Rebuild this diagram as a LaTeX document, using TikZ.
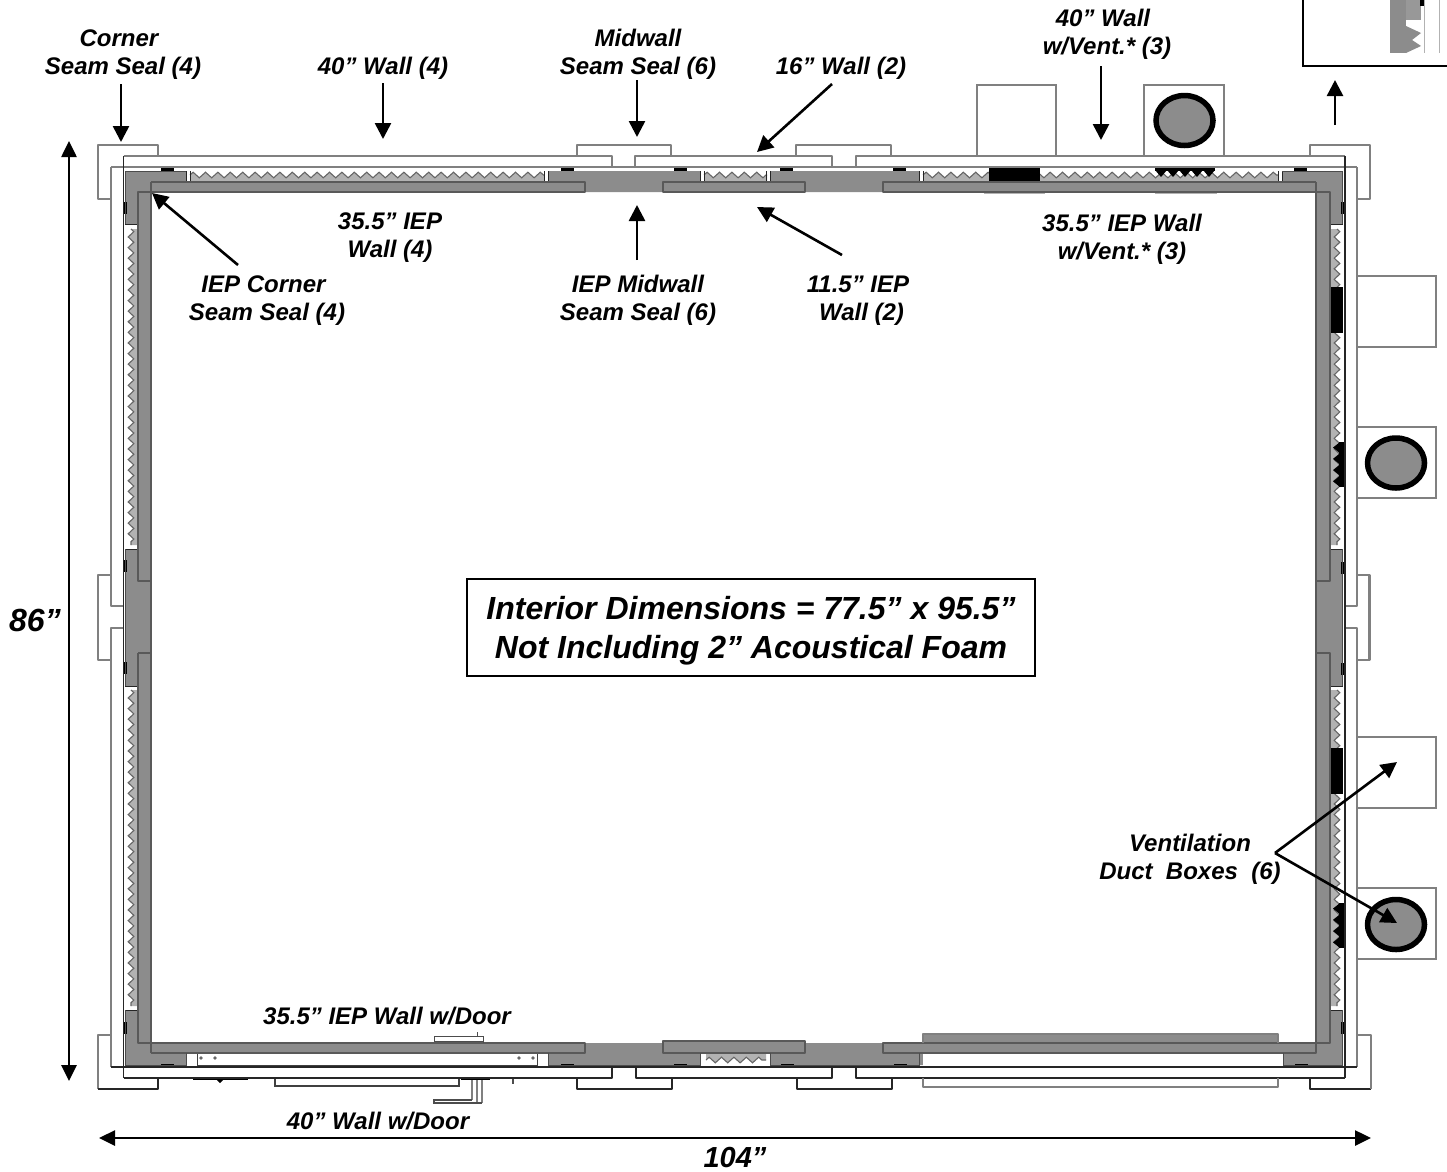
\documentclass[tikz,border=0pt]{standalone}
\usepackage{fontspec}
\setmainfont{Liberation Sans}
\usetikzlibrary{arrows.meta,decorations.pathmorphing}
\definecolor{wallgray}{gray}{0.55}
\definecolor{foamgray}{gray}{0.70}
\definecolor{linegray}{gray}{0.50}
\tikzset{
  lbl/.style={font=\fontsize{24}{28}\selectfont\bfseries\itshape,align=center,inner sep=0pt},
  arr/.style={line width=2.6pt,-{Triangle[length=16pt,width=16pt]}},
  dimarr/.style={line width=2.6pt,{Triangle[length=16pt,width=15pt]}-{Triangle[length=16pt,width=15pt]}},
  gl/.style={draw=linegray,line width=2.1pt,line join=round},
  kl/.style={draw=black!85,line width=1.5pt,line join=round},
  il/.style={draw=black!65,line width=1.7pt,line join=round},
  zz/.style={decoration={zigzag,segment length=#1,amplitude=2.8pt}},
  ventbox/.style={fill=white,draw=linegray,line width=1.7pt},
  ventcirc/.style={fill=wallgray,draw=black,line width=5.5pt},
}
\newcommand{\zigH}[4]{%
  \fill[foamgray] (#1,#3) decorate[zz=12.4] {-- (#2,#3)} -- (#2,#4) -- (#1,#4) -- cycle;
  \path[draw=black!60,line width=1.1pt] (#1,#3) decorate[zz=12.4] {-- (#2,#3)};
}
\newcommand{\zigV}[4]{%
  \fill[foamgray] (#3,#1) decorate[zz=10.6] {-- (#3,#2)} -- (#4,#2) -- (#4,#1) -- cycle;
  \path[draw=black!60,line width=1.1pt] (#3,#1) decorate[zz=10.6] {-- (#3,#2)};
}
\begin{document}
\begin{tikzpicture}[x=1pt,y=-1pt]
\useasboundingbox (0,0) rectangle (1447,1171);
\fill[white] (0,0) rectangle (1447,1171);

% inset at the top right
\fill[wallgray] (1390,0) rectangle (1406,53);
\fill[wallgray!90] (1406,0) rectangle (1421,20);
\fill[black] (1420,0) rectangle (1424,6);
\fill[wallgray] (1406,26) -- (1421,33) -- (1412,40) -- (1421,46) -- (1406,53) -- cycle;
\draw[gray!60,line width=0.8pt] (1424,0) -- (1424,53) (1439,0) -- (1439,53);
\draw[black,line width=1.8pt] (1303,0) -- (1303,66) -- (1447,66);

% vent boxes
\draw[ventbox] (977,156) -- (977,85) -- (1056,85) -- (1056,156);
\draw[ventbox] (1144,156) -- (1144,85) -- (1224,85) -- (1224,156);
\draw[ventbox] (1357,276) -- (1436,276) -- (1436,347) -- (1357,347);
\draw[ventbox] (1357,427) -- (1436,427) -- (1436,498) -- (1357,498);
\draw[ventbox] (1357,737) -- (1436,737) -- (1436,808) -- (1357,808);
\draw[ventbox] (1357,888) -- (1436,888) -- (1436,959) -- (1357,959);
\draw[ventcirc] (1184.5,120.5) ellipse [x radius=28.5pt,y radius=25pt];
\draw[ventcirc] (1396,463) ellipse [x radius=28.5pt,y radius=25pt];
\draw[ventcirc] (1396,924.5) ellipse [x radius=28.5pt,y radius=25pt];

% gray wall frame
\fill[wallgray,even odd rule] (125,171) rectangle (1342,1065) (151,192) rectangle (1316,1043);
\fill[wallgray] (663,1041) rectangle (805,1043);
\fill[wallgray] (923,1034) rectangle (1278,1043);

% top foam
\fill[white] (186,168) rectangle (548,181.5);
\fill[white] (700,168) rectangle (770,181.5);
\fill[white] (919,168) rectangle (1282,181.5);
\zigH{190}{544}{175}{181}
\zigH{704}{767}{175}{181}
\zigH{923}{1278}{175}{181}
\draw[kl,line width=1pt] (186,171) -- (186,181) -- (190,181) -- (190,171);
\draw[kl,line width=1pt] (544,171) -- (544,181) -- (548,181) -- (548,171);
\draw[kl,line width=1pt] (700,171) -- (700,181) -- (704,181) -- (704,171);
\draw[kl,line width=1pt] (766,171) -- (766,181) -- (770,181) -- (770,171);
\draw[kl,line width=1pt] (919,171) -- (919,181) -- (923,181) -- (923,171);
\draw[kl,line width=1pt] (1278,171) -- (1278,181) -- (1282,181) -- (1282,171);

% left foam
\fill[white] (125,224) rectangle (138,549);
\fill[white] (125,686) rectangle (138,1010);
\zigV{229}{545}{131}{138}
\zigV{690}{1006}{131}{138}
\draw[kl,line width=1pt] (125,224) -- (138,224) (125,549) -- (138,549) (125,686) -- (138,686) (125,1010) -- (138,1010);

% right foam
\fill[white] (1330,224) rectangle (1343,549);
\fill[white] (1330,686) rectangle (1343,1010);
\zigV{229}{545}{1337}{1330}
\zigV{690}{1006}{1337}{1330}
\draw[kl,line width=1pt] (1330,224) -- (1343,224) (1330,549) -- (1343,549) (1330,686) -- (1343,686) (1330,1010) -- (1343,1010);

% bottom openings
\fill[white] (186,1054) rectangle (548,1066);
\fill[white] (923,1054) rectangle (1283,1066);
\fill[white] (700,1054) rectangle (770,1066);
\zigH{706}{766}{1060}{1054}

% black vents
\fill[black] (989,167) rectangle (1040,181);
\fill[black] (1155,167) rectangle (1215,171);
\foreach \i in {0,...,4}{\fill[black] ({1155+12*\i},170) -- ({1167+12*\i},170) -- ({1161+12*\i},177) -- cycle;}
\fill[black] (1330,287) rectangle (1343,333);
\fill[black] (1330,748) rectangle (1343,794);
\fill[black] (1339,442) rectangle (1344,487);
\fill[black] (1339,903) rectangle (1344,948);
\foreach \i in {0,1,2,3}{\fill[black] (1340,{442+11.25*\i}) -- (1340,{453.25+11.25*\i}) -- (1333,{447.6+11.25*\i}) -- cycle;}
\foreach \i in {0,1,2,3}{\fill[black] (1340,{903+11.25*\i}) -- (1340,{914.25+11.25*\i}) -- (1333,{908.6+11.25*\i}) -- cycle;}
\draw[gray!60,line width=1pt] (984,193.5) -- (1045,193.5) (1155,193.5) -- (1217,193.5);

% small black seal marks
\foreach \x in {161,561,674,780,893,1294}{\fill[black] (\x,167.5) rectangle (\x+13,170.5);}
\foreach \x in {161,561,674,781,894,1295}{\fill[black] (\x,1064) rectangle (\x+13,1067);}
\foreach \y in {202,560,662,1022}{\fill[black] (123,\y) rectangle (126.5,\y+12);}
\foreach \y in {202,562,663,1022}{\fill[black] (1341,\y) rectangle (1344.5,\y+12);}

% IEP panel outlines
\draw[il] (151,182) -- (585,182) -- (585,192) -- (138,192) -- (138,581) -- (151,581);
\draw[il] (663,192) rectangle (805,182);
\draw[il] (1316,182) -- (883,182) -- (883,192) -- (1330,192) -- (1330,581) -- (1316,581);
\draw[il] (138,653) -- (151,653);
\draw[il] (138,653) -- (138,1043) -- (585,1043) -- (585,1053) -- (151,1053);
\draw[il] (151,182) -- (151,1053);
\draw[il] (1316,182) -- (1316,1053) -- (883,1053) -- (883,1043) -- (1330,1043) -- (1330,653) -- (1316,653);
\draw[il] (663,1041) rectangle (805,1053);
\draw[gl] (923,1043) -- (923,1034) -- (1278,1034) -- (1278,1043);
% seal outlines
\draw[black!70,line width=1pt] (125,224) -- (125,171) -- (186,171);
\draw[black!70,line width=1pt] (1282,171) -- (1342,171) -- (1342,224);
\draw[black!70,line width=1pt] (125,549) -- (125,686) (1342,549) -- (1342,686);
\draw[black!70,line width=1pt] (125,1010) -- (125,1065) -- (186,1065) -- (186,1053);
\draw[black!70,line width=1pt] (548,1053) -- (548,1065) -- (700,1065) -- (700,1053);
\draw[black!70,line width=1pt] (770,1053) -- (770,1065) -- (919,1065) -- (919,1053);
\draw[black!70,line width=1pt] (1283,1053) -- (1283,1065) -- (1342,1065) -- (1342,1010);

% door
\draw[black!75,line width=1pt] (197,1054) -- (197,1065) -- (537,1065) -- (537,1054);
\foreach \x in {201,215,519,533}{\fill[black!60] (\x,1058) circle (1.8pt);}
\draw[black!70,line width=1pt] (434,1036) rectangle (483,1041);
\draw[black!70,line width=1pt] (483,1041) -- (483,1043);
\draw[black!70,line width=1pt] (477,1032) -- (477,1036);
\draw[black,line width=1.8pt] (193,1079.5) -- (248,1079.5);
\fill[black] (216,1079) -- (224,1079) -- (220,1083) -- cycle;
\draw[black!75,line width=1.1pt] (275,1079) -- (275,1086) -- (459,1086) -- (459,1079);
\draw[black,line width=1.8pt] (461,1079.5) -- (490,1079.5);
\draw[black!70,line width=1.1pt] (513,1079) -- (513,1084);
\draw[linegray,line width=1.4pt] (472,1080) -- (472,1100) (477,1080) -- (477,1103) (482,1080) -- (482,1103);
\draw[black!70,line width=1.1pt] (472,1100) -- (434,1100) -- (434,1103) -- (482,1103);

% outer wall lines: top and right gray, bottom black
\draw[gl] (123.5,156) -- (612,156) -- (612,167);
\draw[gl] (635,167) -- (635,156) -- (832,156) -- (832,167);
\draw[gl] (856,167) -- (856,156) -- (1345,156);
\draw[gl] (111,167) -- (1357,167);
\draw[gl] (111,167) -- (111,606) -- (123.5,606);
\draw[gl] (123.5,628) -- (111,628) -- (111,1067);
\draw[gl] (1357,167) -- (1357,606) -- (1345,606);
\draw[gl] (1345,628) -- (1357,628) -- (1357,1067);
\draw[kl] (111,1067) -- (1357,1067);
\draw[kl] (123.5,1078) -- (612,1078) -- (612,1067);
\draw[kl] (636,1067) -- (636,1078) -- (832,1078) -- (832,1067);
\draw[kl] (856,1067) -- (856,1078) -- (1345,1078);
\draw[kl] (123.5,156) -- (123.5,1078);
\draw[kl] (1345,156) -- (1345,1078);

% seam brackets
\draw[gl] (158,156) -- (158,145) -- (98,145) -- (98,199) -- (111,199);
\draw[gl] (577,156) -- (577,145) -- (671,145) -- (671,156);
\draw[gl] (796,156) -- (796,145) -- (891,145) -- (891,156);
\draw[gl] (1310,156) -- (1310,145) -- (1370,145) -- (1370,199) -- (1357,199);
\draw[gl] (111,575) -- (98,575) -- (98,660) -- (111,660);
\draw[gl] (1357,575) -- (1369.5,575) -- (1369.5,660) -- (1357,660);
\draw[gl] (111,1035) -- (98,1035) -- (98,1089);
\draw[kl] (98,1089) -- (158,1089) -- (158,1078);
\draw[kl] (577,1078) -- (577,1089) -- (672,1089) -- (672,1078);
\draw[kl] (797,1078) -- (797,1089) -- (892,1089) -- (892,1078);
\draw[kl] (1310,1078) -- (1310,1089) -- (1371,1089);
\draw[gl] (1371,1089) -- (1371,1035) -- (1357,1035);
\draw[gl] (923,1078) -- (923,1087) -- (1278,1087) -- (1278,1078);

% labels
\node[lbl] (cs) at (123,55) {Corner\hspace*{8pt}\\Seam Seal (4)};
\node[lbl] (w40) at (383,68) {40” Wall (4)};
\node[lbl] (ms) at (638,54) {Midwall\\Seam Seal (6)};
\node[lbl] (w16) at (841,68) {16” Wall (2)};
\node[lbl] (wv) at (1107,34) {40” Wall\hspace*{8pt}\\w/Vent.* (3)};
\node[lbl] (iw) at (390,238) {35.5” IEP\\Wall (4)};
\node[lbl] (iwv) at (1122,239) {35.5” IEP Wall\\w/Vent.* (3)};
\node[lbl] (ics) at (267,301) {IEP Corner\hspace*{7pt}\\Seam Seal (4)};
\node[lbl] (ims) at (638,300) {IEP Midwall\\Seam Seal (6)};
\node[lbl] (i11) at (858,301) {11.5” IEP\\\hspace*{7pt}Wall (2)};
\node[lbl] (vd) at (1190,859) {Ventilation\\Duct\ \ Boxes\ \ (6)};
\node[lbl] (idoor) at (387,1016) {35.5” IEP Wall w/Door};
\node[lbl] (wdoor) at (378,1121) {40” Wall w/Door};
\node[font=\fontsize{32}{36}\selectfont\bfseries\itshape,inner sep=0pt] (d86) at (35,620) {86”};
\node[font=\fontsize{29}{34}\selectfont\bfseries\itshape,inner sep=0pt] (d104) at (735,1157) {104”};
\node[draw=black,line width=1.2pt,minimum width=568pt,minimum height=97pt] (dims) at (751,627.5) {};
\node[font=\fontsize{32}{39}\selectfont\bfseries\itshape,align=center,inner sep=0pt] (dimstext) at (751,631) {Interior Dimensions = 77.5” x 95.5”\\Not Including 2” Acoustical Foam};

% arrow anchors
\coordinate (a1) at (121,84);   \coordinate (b1) at (121,142);
\coordinate (a2) at (383,83);   \coordinate (b2) at (383,139);
\coordinate (a3) at (637,80);   \coordinate (b3) at (637,137);
\coordinate (a4) at (832,84);   \coordinate (b4) at (757,152);
\coordinate (a5) at (1101,66);  \coordinate (b5) at (1101,140);
\coordinate (a6) at (1335,125); \coordinate (b6) at (1335,80);
\coordinate (a7) at (238,265);  \coordinate (b7) at (152,193);
\coordinate (a8) at (637,260);  \coordinate (b8) at (637,205);
\coordinate (a9) at (842,255);  \coordinate (b9) at (757,207);
\coordinate (ap) at (1275,853); \coordinate (b10) at (1397,762); \coordinate (b11) at (1397,923);
\foreach \p/\q in {a1/b1,a2/b2,a3/b3,a4/b4,a5/b5,a6/b6,a7/b7,a8/b8,a9/b9,ap/b10,ap/b11}{\draw[arr] (\p) -- (\q);}
\coordinate (v1) at (69,141); \coordinate (v2) at (69,1081);
\coordinate (h1) at (99,1138); \coordinate (h2) at (1371,1138);
\draw[dimarr] (v1) -- (v2);
\draw[dimarr] (h1) -- (h2);
\end{tikzpicture}
\end{document}
